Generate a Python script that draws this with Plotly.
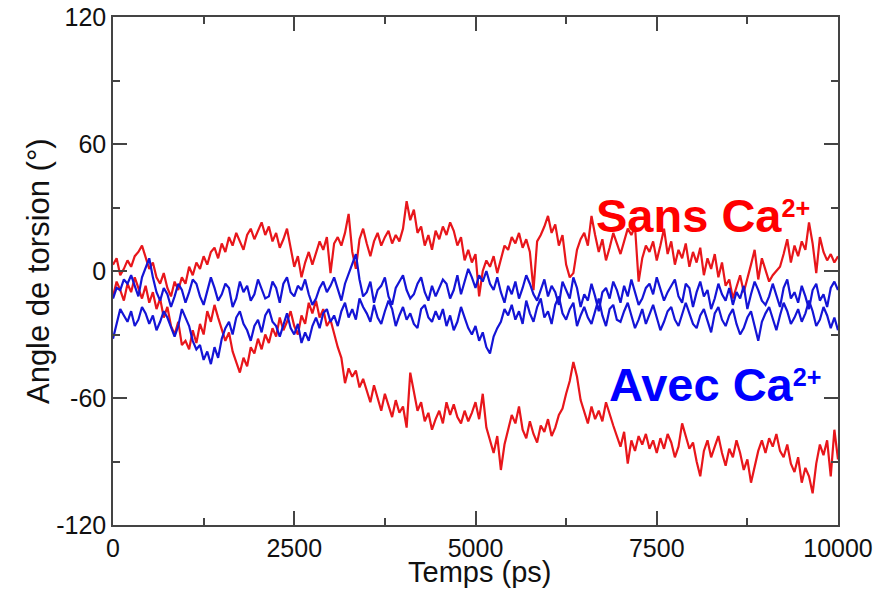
import plotly.graph_objects as go

# Time axis (ps), one sample every 50 ps
temps = list(range(0, 10001, 50))

# Sans Ca2+ : trajectory 1 (stays near 0)
sans_ca_1 = [
    3, 6, -2, 1, 5, 2, 7, 9, 12, 6,
    1, 4, -3, -6, -1, -8, -12, -5, -9, -3,
    -6, 2, -2, 4, 1, 7, 3, 9, 11, 6,
    13, 9, 16, 12, 18, 14, 10, 17, 20, 15,
    19, 23, 17, 21, 14, 18, 11, 15, 20, 10,
    2, 7, -3, 4, 9, 3, 8, 14, 10, 16,
    -1, 13, 16, 12, 18, 27, 9, 1, 15, 20,
    13, 7, 14, 18, 12, 16, 19, 13, 17, 14,
    20, 33, 24, 29, 18, 21, 12, 17, 10, 19,
    15, 21, 17, 23, 19, 12, 16, 5, 10, 4,
    8, -12, 0, 5, 2, 7, -1, 6, 12, 10,
    16, 13, 18, 11, 15, 9, -9, 14, 17, 21,
    26, 18, 22, 12, 17, 3, -3, -1, 10, 15,
    18, 12, 26, 17, 9, 15, 5, 11, 18, 13,
    8, 14, 20, 17, 21, -5, 6, 12, 9, 14,
    5, 12, 20, 8, 14, 3, 10, 6, 13, 2,
    9, 4, 11, -2, 6, 1, 8, -3, 4, -7,
    -4, -13, -8, -2, -10, -4, 3, 10, -4, 6,
    1, -5, -2, 0, 2, 8, 15, 4, 12, 7,
    14, 10, 23, 13, -1, 16, 9, 5, 8, 4,
    7,
]

# Sans Ca2+ : trajectory 2 (drifts down to about -90)
sans_ca_2 = [
    -12, -5, -9, -14, -6, -10, -3, -8, -13, -7,
    -15, -10, -18, -13, -22, -17, -26, -30, -24, -35,
    -33, -37, -28, -34, -25, -30, -19, -24, -16, -22,
    -27, -33, -29, -38, -43, -48, -41, -45, -36, -39,
    -32, -37, -30, -34, -27, -31, -22, -28, -24, -19,
    -26, -30, -21, -25, -15, -20, -14, -22, -18, -26,
    -23, -30, -36, -41, -53, -46, -50, -47, -55, -51,
    -56, -62, -54, -60, -66, -58, -63, -69, -61, -67,
    -64, -74, -48, -57, -66, -62, -71, -67, -75, -70,
    -66, -72, -62, -68, -63, -69, -72, -66, -71, -67,
    -62, -70, -58, -74, -80, -86, -78, -94, -82, -75,
    -68, -72, -64, -75, -79, -71, -77, -81, -73, -76,
    -70, -78, -74, -68, -65, -58, -52, -43, -50, -61,
    -67, -72, -64, -70, -66, -71, -62, -68, -73, -78,
    -83, -76, -91, -80, -85, -78, -82, -77, -84, -80,
    -86, -79, -84, -77, -81, -88, -83, -72, -78, -84,
    -81, -90, -97, -85, -80, -88, -83, -78, -86, -92,
    -84, -88, -80, -86, -94, -89, -100, -92, -85, -80,
    -86, -79, -83, -77, -85, -88, -82, -91, -95, -88,
    -100, -93, -97, -105, -91, -82, -87, -80, -97, -75,
    -89,
]

# Avec Ca2+ : trajectory 1
avec_ca_1 = [
    -13, -8, -9, -4, -6, -2, -7, -12, -3, 2,
    6, -3, -10, -14, -8, -11, -17, -12, -6, -9,
    -15, -10, -4, -6, -12, -16, -9, -3, -8, -14,
    -11, -6, -8, -17, -13, -5, -10, -7, -14, -11,
    -4, -9, -13, -12, -5, -8, -15, -6, -3, -10,
    -12, -7, -9, -4, -11, -16, -13, -8, -5, -10,
    -7, -3, -9, -14, -6, -1, 3, 8, -4, -12,
    -10, -5, -15, -9, -7, -3, -12, -16, -8, -5,
    -2, -9, -13, -11, -6, -3, -10, -14, -7, -12,
    -8, -4, -6, -13, -9, -2, -11, -5, 1, -3,
    -8, -2, -5, 0, -6, -9, -3, -10, -15, -7,
    -11, -5, -13, -8, -2, -6, -11, -14, -9, -4,
    -12, -7, -10, -16, -5, -9, -13, -3, -8, -17,
    -11, -14, -6, -12, -19, -10, -8, -13, -5, -9,
    -15, -7, -12, -4, -10, -16, -13, -8, -6, -11,
    -3, -9, -14, -10, -7, -4, -12, -15, -6, -8,
    -17, -10, -5, -12, -9, -18, -13, -6, -11, -14,
    -8, -16, -10, -13, -7, -18, -11, -5, -9, -14,
    -16, -12, -6, -11, -17, -8, -4, -13, -10, -15,
    -7, -12, -18, -9, -6, -14, -11, -17, -8, -5,
    -9,
]

# Avec Ca2+ : trajectory 2
avec_ca_2 = [
    -32, -25, -18, -21, -24, -19, -26, -23, -17, -20,
    -25, -21, -28, -24, -19, -22, -27, -31, -26, -18,
    -22, -26, -33, -37, -35, -42, -38, -44, -36, -41,
    -32, -27, -24, -30, -22, -19, -25, -28, -33, -26,
    -23, -29, -21, -18, -24, -26, -31, -25, -20, -27,
    -30, -25, -34, -29, -33, -26, -22, -27, -20, -18,
    -24, -21, -26, -19, -15, -22, -18, -23, -13, -17,
    -20, -24, -16, -22, -25, -19, -14, -18, -26, -21,
    -17, -23, -20, -25, -27, -18, -16, -22, -24, -19,
    -23, -18, -26, -21, -28, -24, -17, -22, -27, -30,
    -26, -33, -29, -36, -39, -31, -27, -24, -18, -21,
    -16, -23, -19, -25, -14, -20, -24, -17, -13, -22,
    -19, -25, -16, -12, -20, -23, -18, -15, -26, -21,
    -17, -22, -25, -19, -13, -21, -26, -18, -16, -23,
    -24, -19, -15, -21, -27, -23, -18, -25, -20, -16,
    -22, -28, -24, -19, -17, -23, -26, -21, -15, -20,
    -25, -27, -21, -18, -24, -29, -20, -17, -23, -26,
    -21, -18, -25, -30, -27, -22, -19, -26, -33, -24,
    -20, -17, -23, -28, -21, -15, -19, -25, -22, -18,
    -24, -20, -14, -19, -26, -23, -17, -21, -27, -22,
    -28,
]

x_ticks = [0, 2500, 5000, 7500, 10000]
y_ticks = [-120, -60, 0, 60, 120]

RED_LINE = "#e8161b"
BLUE_LINE = "#1414d6"
AXIS = "#444444"
TEXT = "#111111"
FONT = "Liberation Sans, Arial, sans-serif"

fig = go.Figure()
for series, color in [
    (sans_ca_1, RED_LINE),
    (sans_ca_2, RED_LINE),
    (avec_ca_1, BLUE_LINE),
    (avec_ca_2, BLUE_LINE),
]:
    fig.add_trace(go.Scatter(x=temps, y=series, mode="lines",
                             line=dict(color=color, width=2.2),
                             showlegend=False, hoverinfo="skip"))

fig.add_annotation(x=6635, y=26, xref="x", yref="y", xanchor="left", yanchor="middle",
                   text="<b>Sans Ca<span style='font-size:36px'><sup>2+</sup></span></b>",
                   showarrow=False, font=dict(family=FONT, size=47, color="#ff0000"))
fig.add_annotation(x=6810, y=-53.5, xref="x", yref="y", xanchor="left", yanchor="middle",
                   text="<b>Avec Ca<span style='font-size:36px'><sup>2+</sup></span></b>",
                   showarrow=False, font=dict(family=FONT, size=47, color="#0000ff"))

# Axis titles
fig.add_annotation(x=0.505, y=-0.093, xref="paper", yref="paper", xanchor="center",
                   yanchor="middle", text="Temps (ps)", showarrow=False,
                   font=dict(family=FONT, size=29, color=TEXT))
fig.add_annotation(x=-0.1034, y=0.5, xref="paper", yref="paper", xanchor="center",
                   yanchor="middle", text="Angle de torsion (°)", textangle=-90,
                   showarrow=False, font=dict(family=FONT, size=31, color=TEXT))

axis_common = dict(showgrid=False, zeroline=False, showline=True, linecolor=AXIS,
                   linewidth=1.5, mirror="ticks", ticks="inside", tickcolor=AXIS,
                   tickwidth=1.5, ticklen=14, automargin=False,
                   ticklabeloverflow="allow",
                   tickfont=dict(family=FONT, size=25, color=TEXT))

fig.update_xaxes(range=[0, 10000], tickvals=x_ticks, ticktext=[str(v) for v in x_ticks],
                 minor=dict(ticks="inside", dtick=1250, tick0=0, ticklen=7,
                            tickcolor=AXIS, tickwidth=1.5),
                 **axis_common)
fig.update_yaxes(range=[-120, 120], tickvals=y_ticks, ticktext=[str(v) for v in y_ticks],
                 minor=dict(ticks="inside", dtick=30, tick0=0, ticklen=7,
                            tickcolor=AXIS, tickwidth=1.5),
                 **axis_common)

fig.update_layout(width=883, height=582, plot_bgcolor="white", paper_bgcolor="white",
                  margin=dict(l=105, r=53, t=9, b=65))

fig.write_html("out.html")
